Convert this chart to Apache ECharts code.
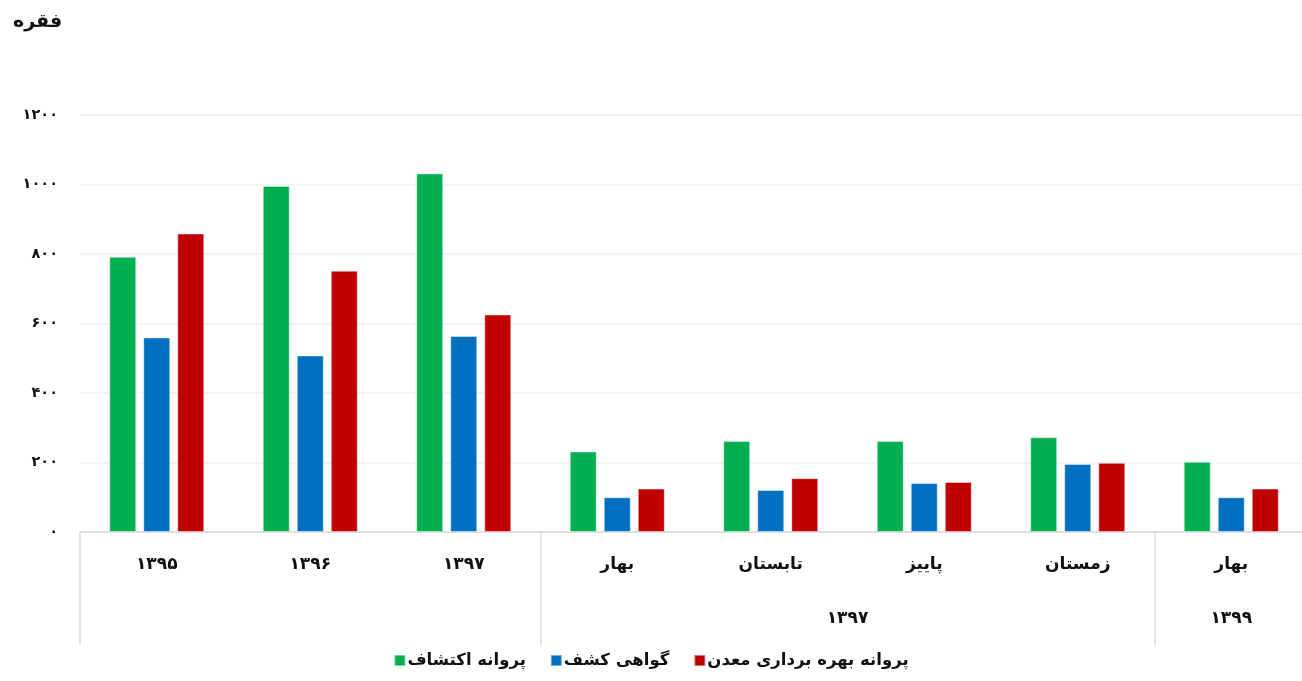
<!DOCTYPE html>
<html lang="fa">
<head>
<meta charset="utf-8">
<title>پروانه و گواهی‌های معدنی</title>
<script src="https://cdn.jsdelivr.net/npm/echarts@6/dist/echarts.min.js"></script>
<style>
  html, body { margin: 0; padding: 0; background: #ffffff; }
  #chart { width: 1302px; height: 681px; }
</style>
</head>
<body>
<div id="chart"></div>
<script>
// Periods on the inner axis row
const categories = ['۱۳۹۵', '۱۳۹۶', '۱۳۹۷', 'بهار', 'تابستان', 'پاییز', 'زمستان', 'بهار'];

// Outer axis row: year groups spanning seasonal periods
const groupLabels = ['۱۳۹۷', '۱۳۹۹'];
const groupStart = [3, 7];
const groupEnd = [7, 8];
const groupDividers = [0, 3, 7, 8];

// Series names
const seriesNames = ['پروانه اکتشاف', 'گواهی کشف', 'پروانه بهره برداری معدن'];

// Values (فقره)
const explorationPermits = [792, 996, 1032, 232, 262, 262, 273, 202];
const discoveryCertificates = [560, 508, 564, 100, 121, 141, 196, 100];
const miningPermits = [859, 752, 626, 125, 155, 144, 199, 125];

// Value axis ticks
const yTicks = [0, 200, 400, 600, 800, 1000, 1200];
const yTickLabels = ['۰', '۲۰۰', '۴۰۰', '۶۰۰', '۸۰۰', '۱۰۰۰', '۱۲۰۰'];

const unitLabel = 'فقره';
const seriesColors = ['#00B050', '#0070C0', '#C00000'];

const FONT = 'DejaVu Sans';
const groupCenters = groupLabels.map((_, i) => (groupStart[i] + groupEnd[i]) / 2);

const chart = echarts.init(document.getElementById('chart'), null, { renderer: 'canvas' });

const seriesData = [explorationPermits, discoveryCertificates, miningPermits];

chart.setOption({
  animation: false,
  backgroundColor: '#ffffff',
  title: {
    text: unitLabel,
    left: 8,
    top: 8,
    textStyle: { fontFamily: FONT, fontWeight: 'bold', fontSize: 19, color: '#111111' }
  },
  legend: {
    data: seriesNames,
    left: 'center',
    bottom: 7,
    icon: 'rect',
    itemWidth: 11,
    itemHeight: 11,
    itemGap: 24,
    textStyle: { fontFamily: FONT, fontWeight: 'bold', fontSize: 16.5, color: '#111111', padding: [0, 0, 0, -3] }
  },
  // plot area runs slightly past the right edge of the canvas
  grid: { left: 80, right: -6, top: 115, bottom: 149, containLabel: false, outerBoundsMode: 'none' },
  xAxis: [
    {
      type: 'category',
      data: categories,
      position: 'bottom',
      axisLine: { show: true, lineStyle: { color: '#d9d9d9', width: 1.5 } },
      axisTick: { show: false },
      axisLabel: {
        interval: 0,
        margin: 24,
        fontFamily: FONT,
        fontWeight: 'bold',
        fontSize: 17,
        color: '#111111'
      }
    },
    {
      type: 'value',
      position: 'bottom',
      min: 0,
      max: 8,
      axisLine: { show: false },
      splitLine: { show: false },
      axisTick: {
        show: true,
        inside: false,
        length: 113,
        customValues: groupDividers,
        lineStyle: { color: '#d9d9d9', width: 1.5 }
      },
      axisLabel: {
        customValues: groupCenters,
        margin: 78,
        fontFamily: FONT,
        fontWeight: 'bold',
        fontSize: 17,
        color: '#111111',
        formatter: function (v) {
          const i = groupCenters.findIndex(c => Math.abs(c - v) < 1e-6);
          return i >= 0 ? groupLabels[i] : '';
        }
      }
    }
  ],
  yAxis: {
    type: 'value',
    min: 0,
    max: 1200,
    interval: 200,
    axisLine: { show: false },
    axisTick: { show: false },
    splitLine: { show: true, lineStyle: { color: '#efefef', width: 1.5 } },
    axisLabel: {
      margin: 22,
      fontFamily: FONT,
      fontWeight: 'bold',
      fontSize: 14.5,
      color: '#111111',
      formatter: function (v) {
        const i = yTicks.indexOf(v);
        return i >= 0 ? yTickLabels[i] : '';
      }
    }
  },
  series: seriesNames.map((name, i) => ({
    name: name,
    type: 'bar',
    xAxisIndex: 0,
    data: seriesData[i],
    barWidth: 27,
    barGap: '26%',
    itemStyle: {
      color: seriesColors[i],
      borderColor: 'rgba(255,255,255,0.45)',
      borderWidth: 1
    }
  }))
});
</script>
</body>
</html>
